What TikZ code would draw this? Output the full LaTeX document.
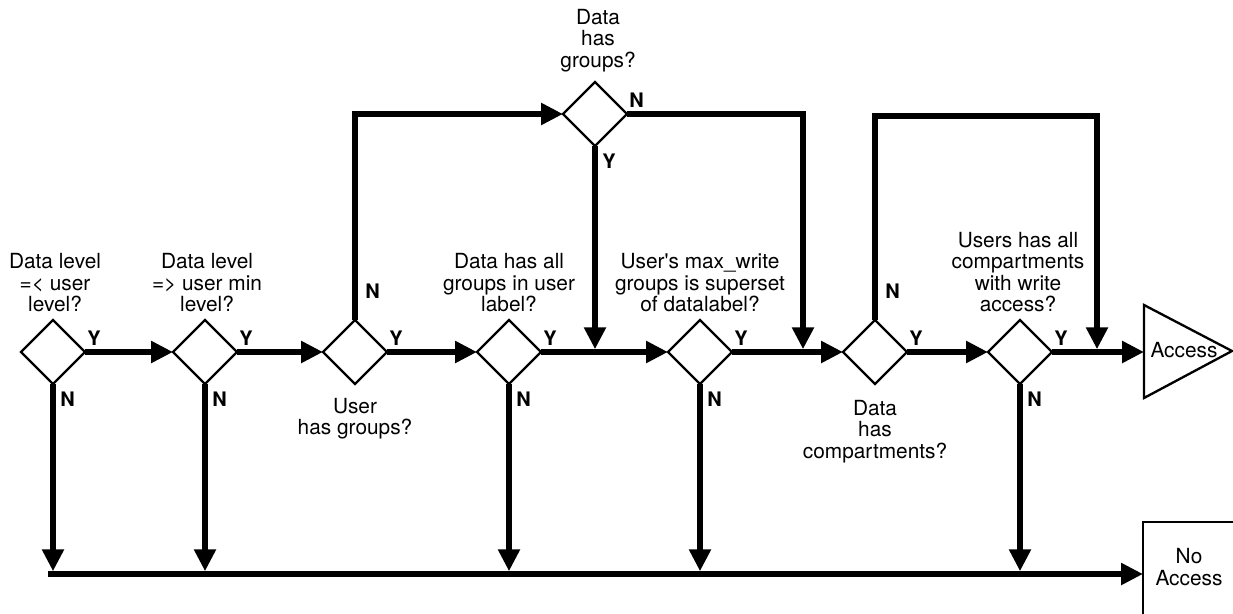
\documentclass[tikz,border=0pt]{standalone}
\usepackage{fontspec}
\setmainfont{TeX Gyre Heros}
\usetikzlibrary{shapes.geometric,arrows.meta}

\begin{document}
\begin{tikzpicture}[x=0.6pt,y=-0.6pt,
  every node/.style={font=\fontsize{12.5}{12.8}\selectfont, inner sep=0pt},
  test/.style={draw, shape=diamond, line width=1.4pt, minimum size=38.4pt, outer sep=0pt},
  flow/.style={line width=3.3pt, -{Triangle[length=13.2pt,width=12.6pt]}},
  merge/.style={flow, shorten >=1.65pt},
  frame/.style={line width=1.4pt},
  question/.style={align=center},
  yn/.style={font=\fontsize{12}{12}\selectfont\bfseries},
  ylab/.style={yn, anchor=south west, xshift=1.2pt, yshift=3.6pt},
  nlab/.style={yn, anchor=north west, xshift=4.2pt, yshift=-4.8pt},
  nup/.style={yn, anchor=south west, xshift=6pt, yshift=12.6pt}]

  \path[use as bounding box, clip] (0,0) rectangle (1233,613);

  % tests
  \node[test] (lvl)    at (53,352)  {};
  \node[test] (minlvl) at (205,352) {};
  \node[test] (ugrp)   at (355,352) {};
  \node[test] (allgrp) at (509,352) {};
  \node[test] (maxw)   at (700,352) {};
  \node[test] (dcomp)  at (875,352) {};
  \node[test] (ucomp)  at (1020,352) {};
  \node[test] (dgrp)   at (595,114) {};

  % questions
  \node[question, anchor=south] (qlvl)    at (55,312)   {Data level\\=< user\\level?};
  \node[question, anchor=south] (qminlvl) at (207,312)  {Data level\\=> user min\\level?};
  \node[question, anchor=north] (qugrp)   at (355,398)  {User\\has groups?};
  \node[question, anchor=south] (qallgrp) at (509,312)  {Data has all\\groups in user\\label?};
  \node[question, anchor=south] (qmaxw)   at (700,312)  {User\textquotesingle s max\_write\\groups is superset\\of datalabel?};
  \node[question, anchor=north] (qdcomp)  at (875,400)  {Data\\has\\compartments?};
  \node[question, anchor=south] (qucomp)  at (1018,312) {Users has all\\compartments\\with write\\access?};
  \node[question, anchor=south] (qdgrp)   at (598,72)   {Data\\has\\groups?};

  % Y and N
  \foreach \n in {lvl,minlvl,ugrp,allgrp,maxw,dcomp,ucomp}
    \node[ylab] (y\n) at (\n.east) {Y};
  \foreach \n in {lvl,minlvl,allgrp,maxw,ucomp}
    \node[nlab] (n\n) at (\n.south) {N};
  \node[nup] (nugrp) at (ugrp.north) {N};
  \node[nup] (ndcomp) at (dcomp.north) {N};
  \node[ylab] (ndgrp) at (dgrp.east) {N};
  \node[nlab] (ydgrp) at (dgrp.south) {Y};

  % results
  \coordinate (accin) at (1144,352);
  \draw[frame] (1144,305) -- (1232,351) -- (1144,398) -- cycle;
  \node (acc) at (1184,350) {Access};
  \coordinate (noin) at (1143,574);
  \draw[frame] (1143,640) -- (1143,522) -- (1260,522);
  \node[question] (noacc) at (1189,567) {No\\Access};

  % main line
  \foreach \a/\b in {lvl/minlvl,minlvl/ugrp,ugrp/allgrp,allgrp/maxw,maxw/dcomp,dcomp/ucomp}
    \draw[flow] (\a.east) -- (\b.west);
  \draw[flow] (ucomp.east) -- (accin);

  % loops
  \coordinate (gjoin) at (803,352);
  \coordinate (ctop) at (875,116);
  \coordinate (cjoin) at (1097,352);
  \draw[flow] (ugrp.north) |- (dgrp.west);
  \draw[merge] (dgrp.east) -| (gjoin);
  \draw[merge] (dgrp.south) -- (dgrp.south |- gjoin);
  \draw[merge] (dcomp.north) -- (ctop) -| (cjoin);

  % no access line
  \coordinate (bstart) at (48,574);
  \foreach \n in {lvl,minlvl,allgrp,maxw,ucomp}
    \draw[merge] (\n.south) -- (\n.south |- bstart);
  \draw[flow] (bstart) -- (noin);

\end{tikzpicture}
\end{document}
